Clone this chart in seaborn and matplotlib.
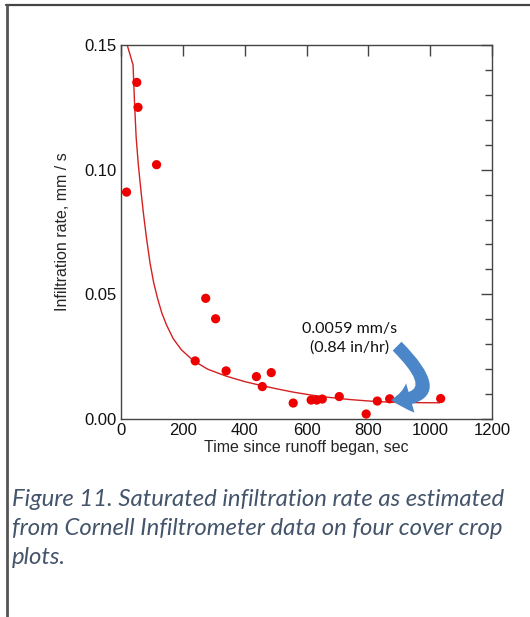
import numpy as np
import pandas as pd
import seaborn as sns
from matplotlib import pyplot as plt
from matplotlib.lines import Line2D
from matplotlib.patches import FancyArrowPatch
from matplotlib.ticker import MultipleLocator

# measured points (time, sec ; infiltration rate, mm/s)
time_s = [18, 51, 55, 115, 240, 274, 306, 340, 438, 457, 486, 557,
          615, 633, 651, 706, 793, 829, 869, 1034]
rate = [0.091, 0.135, 0.125, 0.102, 0.0233, 0.0484, 0.0402, 0.0193, 0.017, 0.013,
        0.0186, 0.0064, 0.0076, 0.0076, 0.008, 0.009, 0.002, 0.0072, 0.0081, 0.0082]

# fitted curve
fit_t = [20, 39, 44, 49, 56, 65, 73, 82, 94, 106, 118, 132, 148, 169, 195, 233,
         280, 340, 400, 448, 500, 556, 610, 663, 740, 825, 911, 1030]
fit_y = [0.150, 0.142, 0.126, 0.113, 0.102, 0.091, 0.082, 0.073, 0.0625, 0.0545,
         0.0485, 0.0425, 0.0375, 0.0322, 0.0278, 0.0235, 0.0200, 0.0172, 0.0150,
         0.0136, 0.0122, 0.0108, 0.0097, 0.0088, 0.0078, 0.0070, 0.0066, 0.0065]

caption = ("Figure 11. Saturated infiltration rate as estimated\n"
           "from Cornell Infiltrometer data on four cover crop\n"
           "plots.")

sns.set_style('white')
plt.rcParams['font.family'] = ['Liberation Sans', 'DejaVu Sans']

pts = pd.DataFrame({'t': time_s, 'rate': rate})
fit = pd.DataFrame({'t': fit_t, 'rate': fit_y})

fig = plt.figure(figsize=(5.30, 6.17), dpi=100)
ax = fig.add_axes([121 / 530, 1 - 419 / 617, 371 / 530, 374 / 617])

sns.lineplot(data=fit, x='t', y='rate', ax=ax, color='#d42020', lw=1.0, sort=False)
sns.scatterplot(data=pts, x='t', y='rate', ax=ax, color='#ee0000', s=44,
                edgecolor='none', zorder=3)

ax.set_xlim(0, 1200)
ax.set_ylim(0, 0.15)
ax.xaxis.set_major_locator(MultipleLocator(200))
ax.yaxis.set_major_locator(MultipleLocator(0.05))
ax.yaxis.set_minor_locator(MultipleLocator(0.01))
ax.yaxis.set_major_formatter(plt.FuncFormatter(lambda v, p: f'{v:.2f}'))
ax.tick_params(axis='both', which='both', direction='in', top=True, right=True,
               colors='#444444', labelcolor='#111111', labelsize=12)
ax.tick_params(which='major', length=8, width=1)
ax.tick_params(axis='y', which='minor', length=5, width=1)
ax.tick_params(axis='x', pad=3)
for s in ax.spines.values():
    s.set_color('#444444')
    s.set_linewidth(1)

ax.set_xlabel('Time since runoff began, sec', fontsize=11.5, labelpad=1)
ax.set_ylabel('Infiltration rate, mm / s', fontsize=11.5, labelpad=10)

ax.text(740, 0.0325, '0.0059 mm/s\n(0.84 in/hr)', ha='center', va='center',
        fontsize=11.5, family=['Lato', 'DejaVu Sans'], color='#111111', linespacing=1.4)
arrow = FancyArrowPatch((893, 0.0292), (873, 0.0076),
                        connectionstyle='angle3,angleA=-45,angleB=0',
                        arrowstyle='simple,head_length=0.7,head_width=1.1,tail_width=0.45',
                        mutation_scale=20, color='#4a86c8', lw=0, zorder=4,
                        shrinkA=0, shrinkB=0)
ax.add_patch(arrow)

fig.text(12 / 530, 1 - 489 / 617, caption, ha='left', va='top', fontsize=17.2,
         style='italic', family=['Lato', 'DejaVu Sans'], color='#44546a',
         linespacing=1.47)

# page frame lines
fig.add_artist(Line2D([6 / 530, 1], [1 - 5 / 617] * 2, transform=fig.transFigure,
                      color='#444444', lw=1.6))
fig.add_artist(Line2D([7 / 530] * 2, [0, 1 - 5 / 617], transform=fig.transFigure,
                      color='#555555', lw=2))

fig.savefig('out.png', dpi=100)
